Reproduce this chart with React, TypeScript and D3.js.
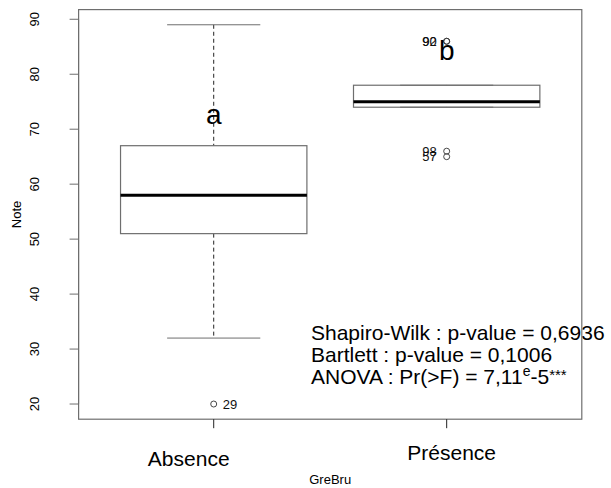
import React from "react";
import * as d3 from "d3";

// Groups and box statistics
const categories = ["Absence", "Présence"];
const q1 = [51, 74];
const medians = [58, 75];
const q3 = [67, 78];
const whiskerLow = [32, 74];
const whiskerHigh = [89, 78];

// Outlying points: group index, value, row label
const outlierGroup = [0, 1, 1, 1, 1];
const outlierValue = [20, 86, 86, 66, 65];
const outlierLabel = ["29", "90", "92", "98", "57"];

// Tukey group letters and their heights (data units)
const groupLetters = ["a", "b"];
const letterValue = [71, 82.6];

const yTicks = [20, 30, 40, 50, 60, 70, 80, 90];

const statLines = [
  "Shapiro-Wilk : p-value = 0,6936",
  "Bartlett : p-value = 0,1006",
];

// Horizontal nudge (px) of each category label from its tick
const labelShift = [-25, 5];
const labelBaseline = [466, 460];

const W = 611;
const H = 488;
const FONT = "'Liberation Sans', Arial, Helvetica, sans-serif";

export default function App() {
  const x = d3.scaleLinear().domain([0.42, 2.58]).range([78.6, 581.8]);
  const y = d3.scaleLinear().domain([17.24, 91.76]).range([419.2, 9.6]);
  const boxHalf = x(1.4) - x(1);
  const capHalf = x(1.2) - x(1);
  const frameStroke = "#6e6e6e";

  return (
    <svg
      width={W}
      height={H}
      style={{ position: "absolute", left: 0, top: 0, background: "#fff" }}
      fontFamily={FONT}
    >
      <rect x={0} y={0} width={W} height={H} fill="#fff" />

      {/* boxes */}
      {categories.map((c, i) => {
        const cx = x(i + 1);
        return (
          <g key={c}>
            <line x1={cx} x2={cx} y1={y(whiskerHigh[i])} y2={y(q3[i])} stroke="#222" strokeDasharray="4,3" />
            <line x1={cx} x2={cx} y1={y(q1[i])} y2={y(whiskerLow[i])} stroke="#222" strokeDasharray="4,3" />
            <line x1={cx - capHalf} x2={cx + capHalf} y1={y(whiskerHigh[i])} y2={y(whiskerHigh[i])} stroke={frameStroke} />
            <line x1={cx - capHalf} x2={cx + capHalf} y1={y(whiskerLow[i])} y2={y(whiskerLow[i])} stroke={frameStroke} />
            <rect
              x={cx - boxHalf}
              y={y(q3[i])}
              width={boxHalf * 2}
              height={y(q1[i]) - y(q3[i])}
              fill="none"
              stroke={frameStroke}
              strokeWidth={1.2}
            />
            <line x1={cx - boxHalf} x2={cx + boxHalf} y1={y(medians[i])} y2={y(medians[i])} stroke="#000" strokeWidth={3} />
          </g>
        );
      })}

      {/* outliers with labels */}
      {outlierValue.map((v, k) => {
        const g = outlierGroup[k];
        const cx = x(g + 1);
        const cy = y(v);
        const left = g === 1;
        return (
          <g key={k}>
            <circle cx={cx} cy={cy} r={3} fill="none" stroke="#333" strokeWidth={0.9} />
            <text
              x={left ? cx - 10 : cx + 9}
              y={cy + 4.5}
              fontSize={13}
              textAnchor={left ? "end" : "start"}
              fill="#111"
            >
              {outlierLabel[k]}
            </text>
          </g>
        );
      })}

      {/* group letters */}
      {groupLetters.map((l, i) => (
        <text key={l} x={x(i + 1)} y={y(letterValue[i])} fontSize={28} textAnchor="middle" fill="#000">
          {l}
        </text>
      ))}

      {/* statistics */}
      {statLines.map((s, i) => (
        <text key={s} x={311} y={340 + i * 22} fontSize={21} fill="#000">
          {s}
        </text>
      ))}
      <text x={311} y={384} fontSize={21} fill="#000">
        ANOVA : Pr({">"}F) = 7,11
        <tspan fontSize={14} dy={-8}>e</tspan>
        <tspan fontSize={21} dy={8}>-5</tspan>
        <tspan fontSize={15} dy={-4}>***</tspan>
      </text>

      {/* frame */}
      <rect
        x={x(0.42)}
        y={y(91.76)}
        width={x(2.58) - x(0.42)}
        height={y(17.24) - y(91.76)}
        fill="none"
        stroke={frameStroke}
        strokeWidth={1.2}
      />

      {/* y axis */}
      <line x1={x(0.42)} x2={x(0.42)} y1={y(20)} y2={y(90)} stroke={frameStroke} />
      {yTicks.map((t) => (
        <g key={t}>
          <line x1={x(0.42) - 9} x2={x(0.42)} y1={y(t)} y2={y(t)} stroke={frameStroke} />
          <text
            transform={`translate(38.5,${y(t)}) rotate(-90)`}
            fontSize={13}
            textAnchor="middle"
            fill="#000"
          >
            {t}
          </text>
        </g>
      ))}
      <text transform={`translate(20.5,${(y(17.24) + y(91.76)) / 2}) rotate(-90)`} fontSize={13} textAnchor="middle">
        Note
      </text>

      {/* x axis */}
      {categories.map((c, i) => (
        <g key={c}>
          <line x1={x(i + 1)} x2={x(i + 1)} y1={y(17.24)} y2={y(17.24) + 9} stroke="#222" />
          <text x={x(i + 1) + labelShift[i]} y={labelBaseline[i]} fontSize={21} textAnchor="middle" fill="#000">
            {c}
          </text>
        </g>
      ))}
      <text x={x(1.5)} y={484} fontSize={13} textAnchor="middle">
        GreBru
      </text>
    </svg>
  );
}
